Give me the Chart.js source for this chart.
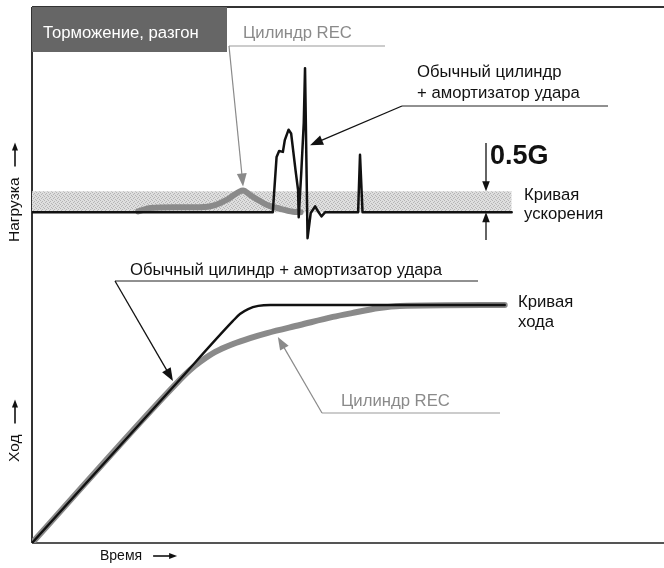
<!DOCTYPE html>
<html>
<head>
<meta charset="utf-8">
<script src="https://cdn.jsdelivr.net/npm/chart.js@4.4.1/dist/chart.umd.min.js"></script>
<style>
  html, body { margin: 0; padding: 0; background: #fff; }
  #chart { display: block; }
</style>
</head>
<body>
<canvas id="chart" width="664" height="568"></canvas>
<script>
// Time runs 0..100 across the plot. Load in G, stroke in % of full stroke.

// Acceleration curve, standard cylinder + shock absorber
const stdAccelTime = [0, 38.1, 38.7, 39.1, 39.7, 40.0, 40.6, 41.0, 41.7, 42.1, 42.2, 42.6, 43.0, 43.2, 43.6, 44.1, 44.8, 45.3, 45.8, 46.4, 51.6, 51.9, 52.3, 75.9];
const stdAccelLoad = [0, 0, 1.32, 1.46, 1.44, 1.72, 1.97, 1.88, 1.0, 0.53, -0.12, 0.93, 2.13, 3.44, -0.62, -0.02, 0.14, 0.01, -0.1, 0, 0, 1.37, 0, 0];

// Acceleration curve, REC cylinder
const recAccelTime = [16.8, 18.7, 22.6, 26.6, 29.0, 31.0, 33.4, 34.5, 35.8, 37.2, 38.8, 41.3, 42.5];
const recAccelLoad = [0.02, 0.1, 0.12, 0.12, 0.17, 0.31, 0.52, 0.41, 0.29, 0.17, 0.1, 0.01, 0];

// 0.5G band
const bandTime = [0, 75.9];
const bandLoad = [0.5, 0.5];

// Stroke curve, standard cylinder + shock absorber
const stdStrokeTime = [0, 22.9, 31.8, 32.9, 34.2, 35.8, 37.7, 74.8];
const stdStroke = [0, 67.2, 93.3, 96.2, 98.3, 99.6, 100, 100];

// Stroke curve, REC cylinder
const recStrokeTime = [0, 22.9, 25.0, 26.6, 29.0, 31.8, 34.5, 37.2, 42.4, 47.6, 50.6, 54.9, 58.2, 74.8];
const recStroke = [0, 67.2, 72.7, 76.1, 80.3, 83.6, 86.1, 88.2, 91.6, 95.0, 96.6, 98.7, 99.6, 100];

const FONT = '"Liberation Sans", Arial, sans-serif';
const BLACK = "#111";
const GRAY = "#8a8a8a";
const LABEL_SIZE = 16.7;

function toPoints(xs, ys) {
  return xs.map((x, i) => ({ x: x, y: ys[i] }));
}

function makeBandPattern() {
  const c = document.createElement("canvas");
  c.width = 4;
  c.height = 4;
  const g = c.getContext("2d");
  g.fillStyle = "#dedede";
  g.fillRect(0, 0, 4, 4);
  g.fillStyle = "#b4b4b4";
  g.fillRect(0, 0, 1, 1);
  g.fillRect(2, 1, 1, 1);
  g.fillRect(1, 2, 1, 1);
  g.fillRect(3, 3, 1, 1);
  return g.createPattern(c, "repeat");
}

function arrow(ctx, x1, y1, x2, y2, color, width, head) {
  const a = Math.atan2(y2 - y1, x2 - x1);
  const hl = head || 12;
  const hw = hl * 0.38;
  ctx.save();
  ctx.strokeStyle = color;
  ctx.fillStyle = color;
  ctx.lineWidth = width;
  ctx.beginPath();
  ctx.moveTo(x1, y1);
  ctx.lineTo(x2 - Math.cos(a) * hl * 0.8, y2 - Math.sin(a) * hl * 0.8);
  ctx.stroke();
  ctx.beginPath();
  ctx.moveTo(x2, y2);
  ctx.lineTo(x2 - Math.cos(a) * hl + Math.sin(a) * hw, y2 - Math.sin(a) * hl - Math.cos(a) * hw);
  ctx.lineTo(x2 - Math.cos(a) * hl - Math.sin(a) * hw, y2 - Math.sin(a) * hl + Math.cos(a) * hw);
  ctx.closePath();
  ctx.fill();
  ctx.restore();
}

function line(ctx, x1, y1, x2, y2, color, width) {
  ctx.save();
  ctx.strokeStyle = color;
  ctx.lineWidth = width;
  ctx.beginPath();
  ctx.moveTo(x1, y1);
  ctx.lineTo(x2, y2);
  ctx.stroke();
  ctx.restore();
}

function text(ctx, str, x, y, color, size, bold) {
  ctx.save();
  ctx.fillStyle = color;
  ctx.font = (bold ? "bold " : "") + size + "px " + FONT;
  ctx.textBaseline = "middle";
  ctx.textAlign = "left";
  ctx.fillText(str, x, y);
  ctx.restore();
}

// axis caption with a long arrow after the word
function axisCaption(ctx, str, x, y, rotated, size) {
  ctx.save();
  ctx.translate(x, y);
  if (rotated) ctx.rotate(-Math.PI / 2);
  ctx.font = size + "px " + FONT;
  const w = ctx.measureText(str).width;
  ctx.fillStyle = BLACK;
  ctx.textBaseline = "middle";
  ctx.fillText(str, 0, 0);
  arrow(ctx, w + 11, 0, w + 35, 0, BLACK, 1.6, 8);
  ctx.restore();
}

const frameAndNotes = {
  id: "frameAndNotes",
  beforeDatasetsDraw(chart) {
    const ctx = chart.ctx;
    const a = chart.chartArea;
    line(ctx, a.left, a.top, chart.width, a.top, "#333", 2);
    line(ctx, a.left, a.top, a.left, a.bottom, "#333", 2);
    line(ctx, a.left, a.bottom, chart.width, a.bottom, "#555", 2);
  },
  afterDatasetsDraw(chart) {
    const ctx = chart.ctx;
    const a = chart.chartArea;
    const sx = chart.scales.x;
    const sl = chart.scales.load;
    const ss = chart.scales.stroke;

    // header box
    ctx.fillStyle = "#666";
    ctx.fillRect(a.left, a.top, 195, 45);
    text(ctx, "Торможение, разгон", 43, 33, "#fff", LABEL_SIZE);

    // REC label on load plot
    text(ctx, "Цилиндр REC", 243, 33, GRAY, LABEL_SIZE);
    line(ctx, 229, 46, 385, 46, "#999", 1);
    arrow(ctx, 229, 46, sx.getPixelForValue(33.4), sl.getPixelForValue(0.52) - 4, GRAY, 1.2, 13);

    // standard cylinder label on load plot
    text(ctx, "Обычный цилиндр", 417, 72, BLACK, LABEL_SIZE);
    text(ctx, "+ амортизатор удара", 417, 93, BLACK, LABEL_SIZE);
    line(ctx, 402, 106, 608, 106, "#222", 1);
    arrow(ctx, 402, 106, sx.getPixelForValue(44.0), sl.getPixelForValue(1.6), BLACK, 1.3, 13);

    // 0.5G dimension
    const y05 = sl.getPixelForValue(0.5);
    const y0 = sl.getPixelForValue(0);
    arrow(ctx, 486, 143, 486, y05, BLACK, 1.3, 10);
    arrow(ctx, 486, 240, 486, y0, BLACK, 1.3, 10);
    text(ctx, "0.5G", 490, 157, BLACK, 27, true);
    text(ctx, "Кривая", 524, 195, BLACK, LABEL_SIZE);
    text(ctx, "ускорения", 524, 214, BLACK, LABEL_SIZE);

    // stroke plot labels
    text(ctx, "Обычный цилиндр + амортизатор удара", 130, 270, BLACK, LABEL_SIZE);
    line(ctx, 115, 281, 478, 281, "#222", 1);
    arrow(ctx, 115, 281, sx.getPixelForValue(22.3), ss.getPixelForValue(68.1), BLACK, 1.3, 13);

    text(ctx, "Кривая", 518, 302, BLACK, LABEL_SIZE);
    text(ctx, "хода", 518, 322, BLACK, LABEL_SIZE);

    text(ctx, "Цилиндр REC", 341, 401, GRAY, LABEL_SIZE);
    line(ctx, 322, 413, 500, 413, "#999", 1);
    arrow(ctx, 322, 413, sx.getPixelForValue(38.9), ss.getPixelForValue(86.6), GRAY, 1.2, 13);

    // axis captions
    axisCaption(ctx, "Нагрузка", 15, 242, true, 15.5);
    axisCaption(ctx, "Ход", 15, 462, true, 15.5);
    axisCaption(ctx, "Время", 100, 556, false, 14);
  },
};

function initializeChart() {
  const ctx = document.getElementById("chart").getContext("2d");
  new Chart(ctx, {
    type: "line",
    data: {
      datasets: [
        {
          label: "Обычный цилиндр (ускорение)",
          data: toPoints(stdAccelTime, stdAccelLoad),
          yAxisID: "load",
          borderColor: BLACK,
          borderWidth: 2.5,
          tension: 0,
          order: 1,
        },
        {
          label: "Обычный цилиндр (ход)",
          data: toPoints(stdStrokeTime, stdStroke),
          yAxisID: "stroke",
          borderColor: BLACK,
          borderWidth: 2.4,
          cubicInterpolationMode: "monotone",
          order: 1,
        },
        {
          label: "Цилиндр REC (ускорение)",
          data: toPoints(recAccelTime, recAccelLoad),
          yAxisID: "load",
          borderColor: GRAY,
          borderWidth: 6,
          cubicInterpolationMode: "monotone",
          order: 2,
        },
        {
          label: "Цилиндр REC (ход)",
          data: toPoints(recStrokeTime, recStroke),
          yAxisID: "stroke",
          borderColor: GRAY,
          borderWidth: 6,
          cubicInterpolationMode: "monotone",
          order: 2,
        },
        {
          label: "0.5G",
          data: toPoints(bandTime, bandLoad),
          yAxisID: "load",
          borderWidth: 0,
          borderColor: "rgba(0,0,0,0)",
          backgroundColor: makeBandPattern(),
          fill: "origin",
          order: 3,
        },
      ],
    },
    options: {
      responsive: false,
      animation: false,
      devicePixelRatio: 1,
      layout: { padding: { left: 32, top: 7, right: 0, bottom: 25 } },
      elements: {
        point: { radius: 0, hoverRadius: 0 },
        line: { borderCapStyle: "round", borderJoinStyle: "round" },
      },
      plugins: {
        legend: { display: false },
        tooltip: { enabled: false },
      },
      scales: {
        x: { type: "linear", min: 0, max: 100, display: false },
        load: { type: "linear", min: -7.9, max: 4.9, display: false },
        stroke: { type: "linear", min: 0, max: 225.2, display: false },
      },
    },
    plugins: [frameAndNotes],
  });
}

document.addEventListener("DOMContentLoaded", initializeChart);
</script>
</body>
</html>
